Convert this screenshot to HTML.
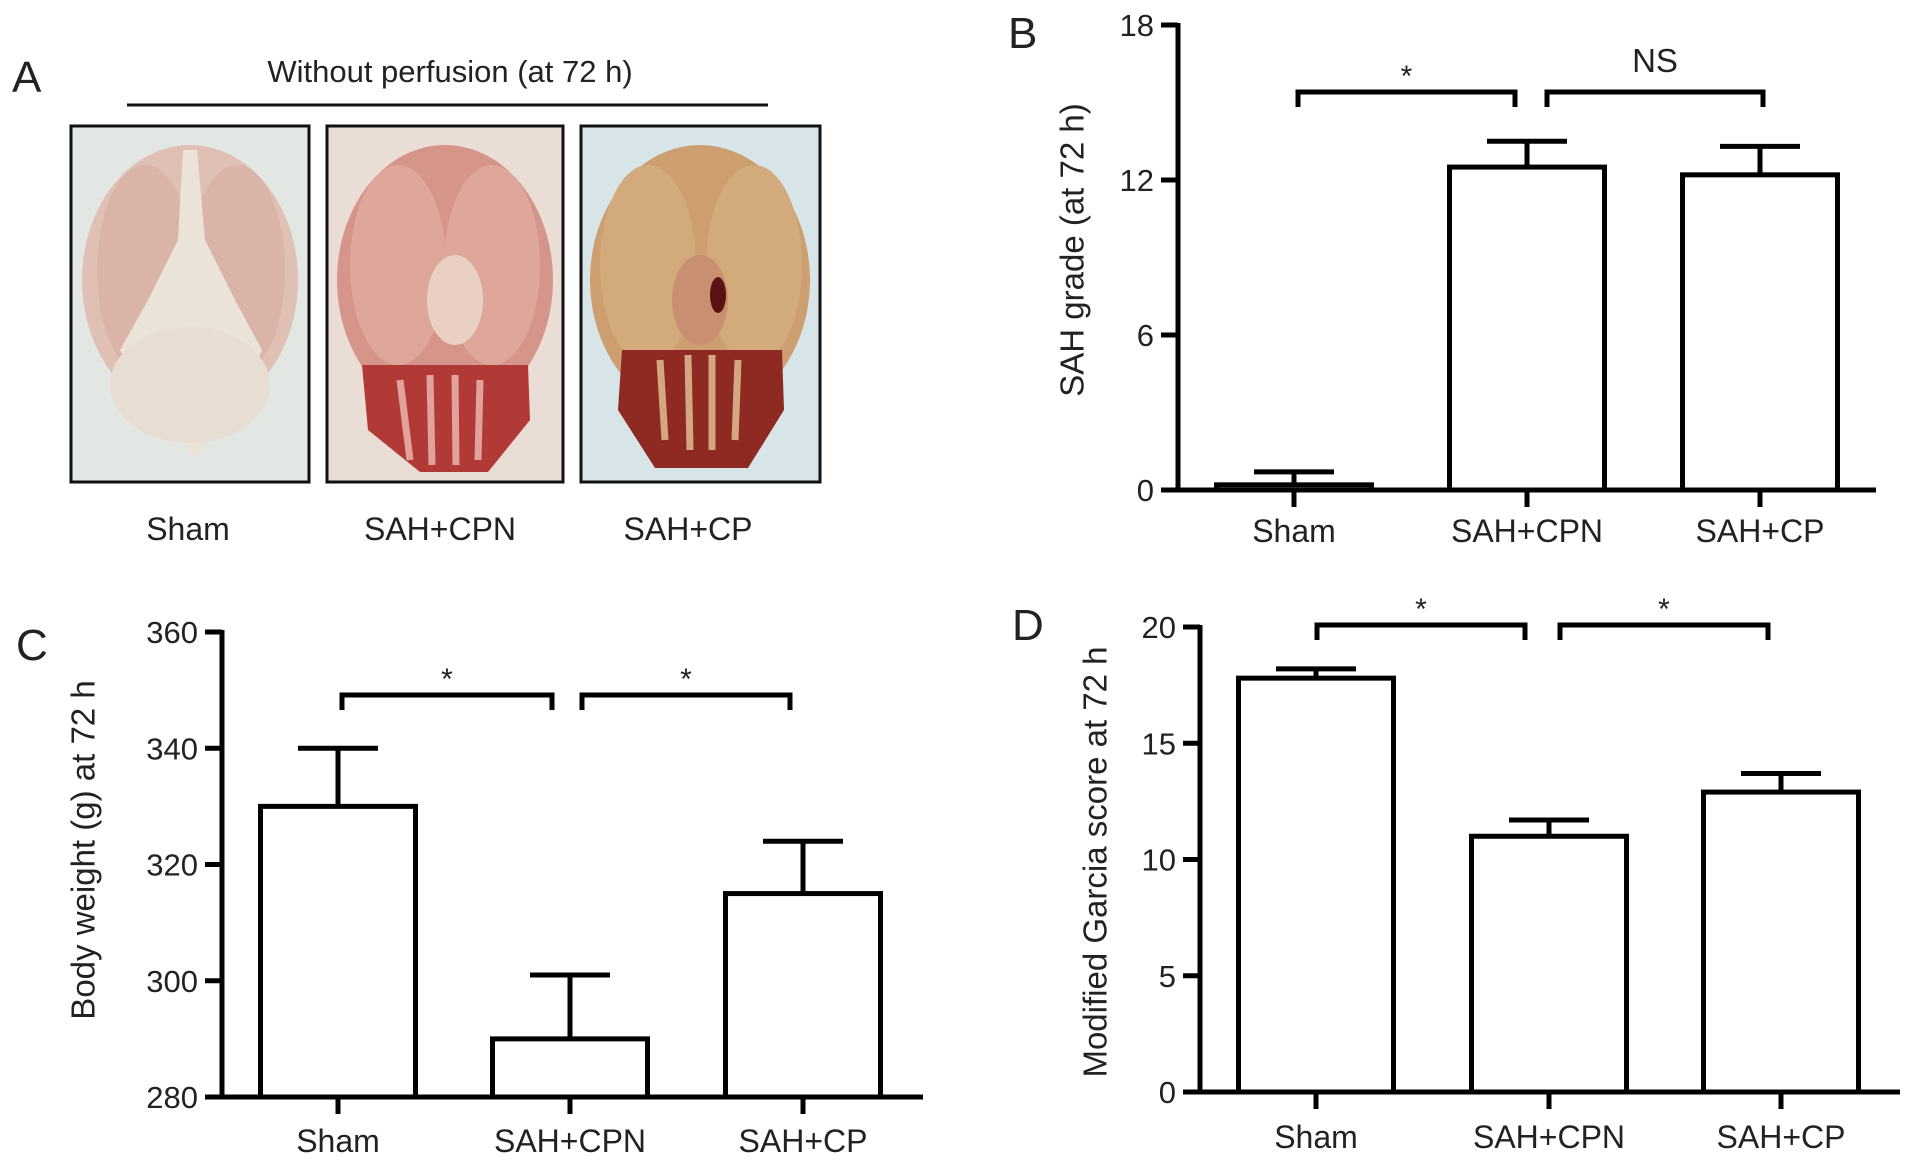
<!DOCTYPE html>
<html><head><meta charset="utf-8"><style>
html,body{margin:0;padding:0;background:#fff;}
svg{display:block;font-family:"Liberation Sans",Arial,sans-serif;}
</style></head><body>
<svg id="fig" width="1913" height="1165" viewBox="0 0 1913 1165" xmlns="http://www.w3.org/2000/svg">
<rect width="1913" height="1165" fill="#fff"/>
<g id="panelA">
  <text x="12" y="92" font-size="44" fill="#222">A</text>
  <text x="450" y="82" font-size="31" fill="#222" text-anchor="middle">Without perfusion (at 72 h)</text>
  <line x1="127" y1="105" x2="768" y2="105" stroke="#111" stroke-width="3"/>
  <g>
    <rect x="71" y="126" width="238" height="356" fill="#e3e7e3" stroke="#111" stroke-width="3"/>
    <ellipse cx="190" cy="280" rx="108" ry="135" fill="#e0c0b5"/>
    <ellipse cx="145" cy="270" rx="48" ry="105" fill="#dab4a9"/>
    <ellipse cx="237" cy="270" rx="48" ry="105" fill="#dab4a9"/>
    <path d="M183 150 L197 150 L205 240 L235 300 L262 350 L235 410 L195 458 L155 410 L120 350 L148 300 L178 240 Z" fill="#ebe2d8"/>
    <ellipse cx="190" cy="385" rx="80" ry="58" fill="#e8ddd2"/>
  </g>
  <g>
    <rect x="327" y="126" width="236" height="356" fill="#e9ddd6" stroke="#111" stroke-width="3"/>
    <ellipse cx="445" cy="280" rx="108" ry="135" fill="#d6958a"/>
    <ellipse cx="398" cy="265" rx="48" ry="100" fill="#dfa79b"/>
    <ellipse cx="492" cy="265" rx="48" ry="100" fill="#dfa79b"/>
    <ellipse cx="455" cy="300" rx="28" ry="45" fill="#ead0c3"/>
    <path d="M362 365 L528 365 L530 420 L488 472 L420 472 L368 430 Z" fill="#b23a36"/>
    <path d="M400 380 L410 460 M430 375 L432 465 M455 375 L456 465 M480 380 L478 460" stroke="#e0a29a" stroke-width="7"/>
  </g>
  <g>
    <rect x="581" y="126" width="239" height="356" fill="#d8e5e8" stroke="#111" stroke-width="3"/>
    <ellipse cx="700" cy="280" rx="110" ry="135" fill="#cc9e70"/>
    <ellipse cx="648" cy="265" rx="48" ry="100" fill="#d2aa7c"/>
    <ellipse cx="754" cy="265" rx="48" ry="100" fill="#d2aa7c"/>
    <ellipse cx="700" cy="300" rx="28" ry="45" fill="#c89070"/>
    <ellipse cx="718" cy="295" rx="8" ry="18" fill="#5a1212"/>
    <path d="M622 350 L782 350 L784 410 L748 468 L655 468 L618 410 Z" fill="#8e2a22"/>
    <path d="M660 360 L665 440 M688 355 L690 450 M712 355 L712 450 M738 360 L735 440" stroke="#d3a880" stroke-width="7"/>
  </g>
  <text x="188" y="540" font-size="32" fill="#222" text-anchor="middle">Sham</text>
  <text x="440" y="540" font-size="32" fill="#222" text-anchor="middle">SAH+CPN</text>
  <text x="688" y="540" font-size="32" fill="#222" text-anchor="middle">SAH+CP</text>
</g>
<g id="panelB"></g>
<g id="panelC"></g>
<g id="panelD"></g>
</svg>
<script>
const categories = ["Sham", "SAH+CPN", "SAH+CP"];
const bMeans = [0.2, 12.5, 12.2];
const bErrors = [0.5, 1.0, 1.1];
const bTicks = [0, 6, 12, 18];
const cMeans = [330, 290, 315];
const cErrors = [10, 11, 9];
const cTicks = [280, 300, 320, 340, 360];
const dMeans = [17.8, 11.0, 12.9];
const dErrors = [0.4, 0.7, 0.8];
const dTicks = [0, 5, 10, 15, 20];

const NS = "http://www.w3.org/2000/svg";
function mk(parent, tag, attrs) {
  const e = document.createElementNS(NS, tag);
  for (const k in attrs) e.setAttribute(k, attrs[k]);
  parent.appendChild(e);
  return e;
}
const panelB = {g: "panelB", letter: "B", letterX: 1008, letterY: 48, axisX: 1178, y0: 490, y1: 25, xEnd: 1876,
  vmin: 0, vmax: 18, centers: [1294, 1527, 1760], barW: 155, title: "SAH grade (at 72 h)", titleX: 1075, titleY: 250,
  labelY: 542, brackets: [[0, 1, 92, "*"], [1, 2, 92, "NS"]], bracketEnds: [[1298, 1515], [1547, 1763]]};
const panelC = {g: "panelC", letter: "C", letterX: 16, letterY: 660, axisX: 222, y0: 1097, y1: 632, xEnd: 923,
  vmin: 280, vmax: 360, centers: [338, 570, 803], barW: 155, title: "Body weight (g) at 72 h", titleX: 86, titleY: 850,
  labelY: 1152, brackets: [[0, 1, 695, "*"], [1, 2, 695, "*"]], bracketEnds: [[342, 552], [582, 790]]};
const panelD = {g: "panelD", letter: "D", letterX: 1012, letterY: 640, axisX: 1200, y0: 1092, y1: 627, xEnd: 1900,
  vmin: 0, vmax: 20, centers: [1316, 1549, 1781], barW: 155, title: "Modified Garcia score at 72 h", titleX: 1098, titleY: 862,
  labelY: 1148, brackets: [[0, 1, 625, "*"], [1, 2, 625, "*"]], bracketEnds: [[1317, 1525], [1560, 1768]]};

function draw(p, means, errs, ticks) {
  const g = document.getElementById(p.g);
  const y = v => p.y0 - (v - p.vmin) / (p.vmax - p.vmin) * (p.y0 - p.y1);
  const L = mk(g, "text", {x: p.letterX, y: p.letterY, "font-size": 44, fill: "#222"});
  L.textContent = p.letter;
  
  
  const t = mk(g, "text", {x: p.titleX, y: p.titleY, "font-size": 33, fill: "#222", "text-anchor": "middle",
    transform: `rotate(-90 ${p.titleX} ${p.titleY})`, "dominant-baseline": "middle"});
  t.textContent = p.title;
  
  
  means.forEach((m, i) => {
    const cx = p.centers[i];
    const bar = mk(g, "rect", {x: cx - p.barW / 2, y: y(m), width: p.barW, height: p.y0 - y(m), fill: "#fff", stroke: "#000", "stroke-width": 5});
    
    
    const e = mk(g, "path", {d: `M${cx} ${y(m)} V${y(m + errs[i])} M${cx - 40} ${y(m + errs[i])} H${cx + 40}`, stroke: "#000", "stroke-width": 5, fill: "none"});
    
    
    const tk = mk(g, "line", {x1: cx, y1: p.y0, x2: cx, y2: p.y0 + 17, stroke: "#000", "stroke-width": 5});
    
    
    const lb = mk(g, "text", {x: cx, y: p.labelY, "font-size": 32, fill: "#222", "text-anchor": "middle"});
    lb.textContent = categories[i];
    
    
  });
  const ya = mk(g, "line", {x1: p.axisX, y1: y(ticks[ticks.length - 1]) - 2, x2: p.axisX, y2: p.y0 + 2, stroke: "#000", "stroke-width": 5});
  
  
  const xa = mk(g, "line", {x1: p.axisX - 17, y1: p.y0, x2: p.xEnd, y2: p.y0, stroke: "#000", "stroke-width": 5});
  
  
  ticks.forEach(v => {
    const tl = mk(g, "line", {x1: p.axisX - 17, y1: y(v), x2: p.axisX, y2: y(v), stroke: "#000", "stroke-width": 5});
    
    
    const tx = mk(g, "text", {x: p.axisX - 24, y: y(v) + 11, "font-size": 31, fill: "#222", "text-anchor": "end"});
    tx.textContent = v;
    
    
  });
  p.brackets.forEach((b, k) => {
    const [x1, x2] = p.bracketEnds[k];
    const by = b[2];
    const br = mk(g, "path", {d: `M${x1} ${by + 15} V${by} H${x2} V${by + 15}`, stroke: "#000", "stroke-width": 5, fill: "none"});
    
    
    const isNS = b[3] === "NS";
    const st = mk(g, "text", {x: (x1 + x2) / 2, y: isNS ? by - 20 : by - 6, "font-size": isNS ? 33 : 30, fill: "#222", "text-anchor": "middle"});
    st.textContent = b[3];
    
    
  });
}
draw(panelB, bMeans, bErrors, bTicks);
draw(panelC, cMeans, cErrors, cTicks);
draw(panelD, dMeans, dErrors, dTicks);
</script>
</body></html>
